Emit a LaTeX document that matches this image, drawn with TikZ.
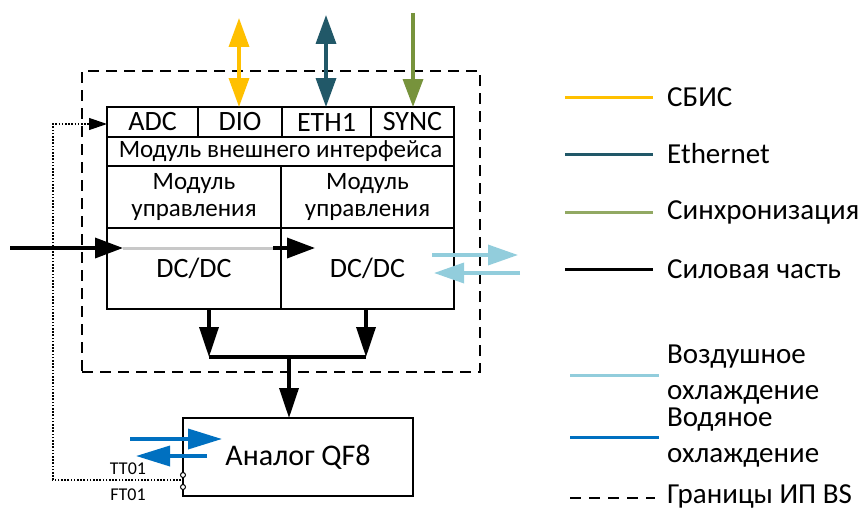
\documentclass[tikz,border=0pt]{standalone}
\usepackage{fontspec}
\setmainfont{Carlito}
\usetikzlibrary{arrows.meta}
\definecolor{cSbis}{HTML}{FFC000}
\definecolor{cEth}{HTML}{215868}
\definecolor{cSync}{HTML}{77933C}
\definecolor{cAir}{HTML}{92CDDC}
\definecolor{cWater}{HTML}{0070C0}
\definecolor{cGrey}{HTML}{C8C8C8}
\tikzset{
  cell/.style={draw, line width=1.6pt, inner sep=0pt, outer sep=0pt, font=\fontsize{25}{27}\selectfont, align=center},
  bigfont/.style={font=\fontsize{28}{30}\selectfont},
  border/.style={draw, line width=1.5pt, dash pattern=on 11pt off 7pt, inner sep=0pt, outer sep=0pt},
  sig/.style={line width=3.5pt},
  bigtip/.style={-{Triangle[length=28pt,width=20pt]}},
  bitip/.style={{Triangle[length=29pt,width=20pt]}-{Triangle[length=29pt,width=20pt]}},
  pwr/.style={line width=3.5pt, black},
  dottedline/.style={line width=1.2pt, dash pattern=on 1.6pt off 1.6pt},
  leglabel/.style={anchor=west, inner sep=0pt, font=\fontsize{29}{36}\selectfont, align=left},
  legline/.style={line width=3pt},
  small/.style={inner sep=0pt, font=\fontsize{18}{20}\selectfont},
  pin/.style={draw, line width=1pt, fill=white, circle, inner sep=0pt, minimum size=5pt},
}
\begin{document}
\begin{tikzpicture}[x=1pt,y=-1pt]
\useasboundingbox (0,0) rectangle (866,511);

% boundary of the power supply
\node[border, minimum width=398pt, minimum height=301pt] (bound) at (281,221.5) {};

% interface row
\node[cell, bigfont, minimum width=91pt, minimum height=30pt] (adc) at (152.5,122) {ADC};
\node[cell, bigfont, minimum width=84pt, minimum height=30pt] (dio) at (240,122) {DIO};
\node[cell, bigfont, minimum width=89pt, minimum height=30pt] (eth) at (326.5,122) {ETH1};
\node[cell, bigfont, minimum width=83pt, minimum height=30pt] (sync) at (412.5,122) {SYNC};
\node[cell, minimum width=347pt, minimum height=29pt] (ifmod) at (280.5,151.5) {Модуль внешнего интерфейса};
% control modules
\node[cell, minimum width=174pt, minimum height=62pt] (ctlA) at (194,197) {Модуль\\управления};
\node[cell, minimum width=173pt, minimum height=62pt] (ctlB) at (367.5,197) {Модуль\\управления};
% converters
\node[cell, bigfont, minimum width=174pt, minimum height=81pt, text height=18pt, text depth=-1pt] (dcA) at (194,268.5) {DC/DC};
\node[cell, bigfont, minimum width=173pt, minimum height=81pt, text height=18pt, text depth=-1pt] (dcB) at (367.5,268.5) {DC/DC};
% load
\node[cell, minimum width=230pt, minimum height=78pt, font=\fontsize{30}{32}\selectfont] (qf) at (298,457) {Аналог QF8};

% external signal lines
\coordinate (dioTop) at (239,18);
\coordinate (ethTop) at (326,15);
\coordinate (syncTop) at (413,13);
\draw[sig, cSbis, bitip] (dioTop) -- (dio.north -| dioTop);
\draw[sig, cEth, bitip] (ethTop) -- (eth.north -| ethTop);
\draw[sig, cSync, bigtip] (syncTop) -- (sync.north -| syncTop);

% power path
\coordinate (pIn) at (10,248);
\coordinate (pA) at (123,248);
\coordinate (pB) at (273,248);
\coordinate (pC) at (315,248);
\draw[pwr, bigtip] (pIn) -- (pA);
\draw[line width=3pt, cGrey] (pA) -- (pB);
\draw[pwr, bigtip] (pB) -- (pC);

% air cooling
\coordinate (airA) at (432,255);
\coordinate (airB) at (518,255);
\coordinate (airC) at (520,273);
\coordinate (airD) at (434,273);
\draw[sig, cAir, -{Triangle[length=30pt,width=20pt]}] (airA) -- (airB);
\draw[sig, cAir, -{Triangle[length=30pt,width=20pt]}] (airC) -- (airD);

% outputs merged into the load
\coordinate (oA) at (209,357);
\coordinate (oB) at (366,357);
\coordinate (oM) at (289,357);
\draw[pwr, -{Triangle[length=30pt,width=19pt]}] (dcA.south -| oA) -- (oA);
\draw[pwr, -{Triangle[length=30pt,width=19pt]}] (dcB.south -| oB) -- (oB);
\draw[pwr] (oA) -- (oB);
\draw[pwr, -{Triangle[length=30pt,width=19pt]}] (oM) -- (qf.north -| oM);

% water cooling
\coordinate (wA) at (130,439);
\coordinate (wB) at (222,439);
\coordinate (wC) at (207,456);
\coordinate (wD) at (136,456);
\draw[sig, cWater, -{Triangle[length=34pt,width=20pt]}] (wA) -- (wB);
\draw[sig, cWater, -{Triangle[length=34pt,width=20pt]}] (wC) -- (wD);

% sensor feedback
\coordinate (sT) at (183,475);
\coordinate (sF) at (183,487);
\coordinate (dA) at (181,480);
\coordinate (dB) at (53,480);
\coordinate (dC) at (53,124);
\draw[dottedline] (dA) -- (dB) -- (dC) -- ([xshift=-17pt]adc.west |- dC);
\draw[-{Triangle[length=18pt,width=12pt]}, line width=1.2pt] ([xshift=-19pt]adc.west |- dC) -- (adc.west |- dC);
\node[pin] (pinT) at (sT) {};
\node[pin] (pinF) at (sF) {};
\node[small] (tt) at (128,469) {TT01};
\node[small] (ft) at (128,495) {FT01};

% legend
\coordinate (l1a) at (565,97);  \coordinate (l1b) at (653,97);
\coordinate (l2a) at (565,154); \coordinate (l2b) at (653,154);
\coordinate (l3a) at (565,212); \coordinate (l3b) at (653,212);
\coordinate (l4a) at (565,269); \coordinate (l4b) at (653,269);
\coordinate (l5a) at (570,375); \coordinate (l5b) at (659,375);
\coordinate (l6a) at (570,437); \coordinate (l6b) at (659,437);
\coordinate (l7a) at (570,498); \coordinate (l7b) at (655,498);
\draw[legline, cSbis] (l1a) -- (l1b);
\draw[legline, cEth] (l2a) -- (l2b);
\draw[legline, cSync!80!white] (l3a) -- (l3b);
\draw[legline, black] (l4a) -- (l4b);
\draw[legline, cAir] (l5a) -- (l5b);
\draw[legline, cWater] (l6a) -- (l6b);
\draw[line width=1.5pt, dash pattern=on 11pt off 8pt] (l7a) -- (l7b);
\node[leglabel] (t1) at (667,97) {СБИС};
\node[leglabel] (t2) at (667,154) {Ethernet};
\node[leglabel] (t3) at (667,212) {Синхронизация};
\node[leglabel] (t4) at (667,269) {Силовая часть};
\node[leglabel] (t5) at (667,375) {Воздушное\\охлаждение};
\node[leglabel] (t6) at (667,437.5) {Водяное\\охлаждение};
\node[leglabel] (t7) at (667,496) {Границы ИП BS};
\end{tikzpicture}
\end{document}
